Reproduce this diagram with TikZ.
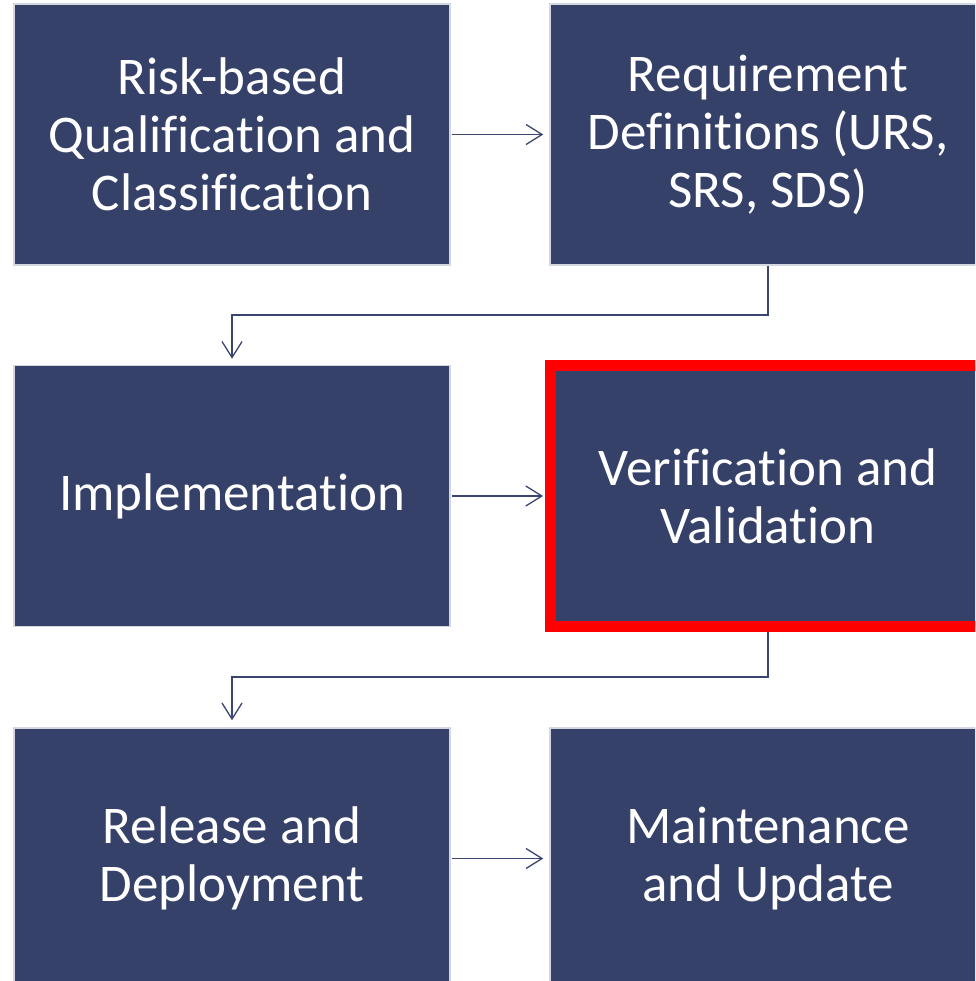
\documentclass[tikz,border=0pt]{standalone}
\usepackage{fontspec}
\setmainfont[Ligatures=NoCommon]{Carlito}
\usetikzlibrary{arrows.meta}
\definecolor{boxfill}{HTML}{354169}
\definecolor{boxedge}{HTML}{D3D8E0}
\definecolor{linecol}{HTML}{3A4670}
\begin{document}
\begin{tikzpicture}[x=1pt,y=-1pt,
  stage/.style={rectangle, fill=boxfill, draw=boxedge, line width=1.5pt,
    minimum width=436pt, minimum height=261pt, inner sep=0pt,
    text=white, align=center, font=\fontsize{53}{58}\selectfont},
  hl/.style={draw=red, line width=11pt},
  conn/.style={draw=linecol, line width=1.3pt, -{Straight Barb[length=16pt,width=20pt,line width=1.3pt]}}
]
\useasboundingbox (0,0) rectangle (975,981);
\clip (0,0) rectangle (975,981);
\node[stage] (b1) at (232,134.5) {Risk-based\\Qualification and\\Classification};
\node[stage] (b2) at (768,134.5) {Requirement\\Definitions (URS,\\SRS, SDS)};
\node[stage] (b3) at (232,496) {Implementation};
\node[stage, hl] (b4) at (768,496) {Verification and\\Validation};
\node[stage] (b5) at (232,858.5) {Release and\\Deployment};
\node[stage] (b6) at (768,858.5) {Maintenance\\and Update};
\draw[conn] ([xshift=1pt]b1.east) -- ([xshift=-6pt]b2.west);
\draw[conn] ([xshift=1pt]b3.east) -- ([xshift=-1.5pt]b4.west);
\draw[conn] ([xshift=1pt]b5.east) -- ([xshift=-6pt]b6.west);
\coordinate (e1) at (768,315);
\draw[conn] (b2.south) -- (e1) -| ([yshift=6pt]b3.north);
\coordinate (e2) at (768,677);
\draw[conn] (b4.south) -- (e2) -| ([yshift=7pt]b5.north);
\end{tikzpicture}
\end{document}
